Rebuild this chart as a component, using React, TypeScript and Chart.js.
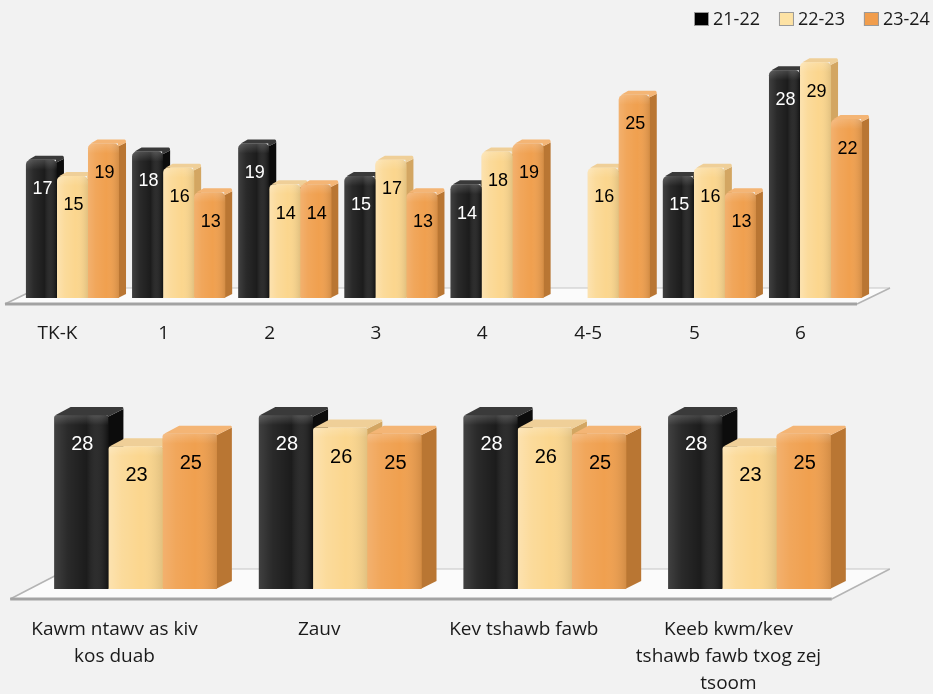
import React, { useEffect, useRef } from "react";
import { Chart, registerables } from "chart.js";

Chart.register(...registerables);

// ---------- data ----------
const seriesLabels = ["21-22", "22-23", "23-24"];

const gradeCategories = ["TK-K", "1", "2", "3", "4", "4-5", "5", "6"];
const grade2122 = [17, 18, 19, 15, 14, null, 15, 28];
const grade2223 = [15, 16, 14, 17, 18, 16, 16, 29];
const grade2324 = [19, 13, 14, 13, 19, 25, 13, 22];

const subjectCategories = [
  ["Kawm ntawv as kiv", "kos duab"],
  "Zauv",
  "Kev tshawb fawb",
  ["Keeb kwm/kev", "tshawb fawb txog zej", "tsoom"],
];
const subject2122 = [28, 28, 28, 28];
const subject2223 = [23, 26, 26, 23];
const subject2324 = [25, 25, 25, 25];

const yAxisMin = 0;
const yAxisMax = 30;

// ---------- styles ----------
const palette = [
  { front: "#1c1c1c", side: "#0c0c0c", top: "#3a3a3a", text: "#ffffff", legend: "#000000", shine: 0.16, shade: 0.35 },
  { front: "#fbd68e", side: "#d3a662", top: "#efcf98", text: "#000000", legend: "#fde2a4", shine: 0.3, shade: 0.1 },
  { front: "#f0a04f", side: "#b97633", top: "#f4b575", text: "#000000", legend: "#f19d4c", shine: 0.18, shade: 0.12 },
];

const LABEL_FONT_FAMILY = '"Open Sans", "Noto Sans", sans-serif';
const VALUE_FONT_FAMILY = '"Liberation Sans", Arial, sans-serif';

type FloorCfg = { fl: number[]; fr: number[]; br: number[]; bl: number[] };
type Cfg = {
  dx: number;
  dy: number;
  radius: number;
  valueFont: string;
  valueDy: number;
  floor: FloorCfg;
};

function make3DPlugin(cfg: Cfg) {
  return {
    id: "bar3d",
    beforeDatasetsDraw(chart: any) {
      const { ctx, chartArea: a } = chart;
      const f = cfg.floor;
      const P = {
        fl: [a.left + f.fl[0], a.bottom + f.fl[1]],
        fr: [a.right + f.fr[0], a.bottom + f.fr[1]],
        br: [a.right + f.br[0], a.bottom + f.br[1]],
        bl: [a.left + f.bl[0], a.bottom + f.bl[1]],
      };
      ctx.save();
      // floor plane
      ctx.beginPath();
      ctx.moveTo(P.fl[0], P.fl[1]);
      ctx.lineTo(P.fr[0], P.fr[1]);
      ctx.lineTo(P.br[0], P.br[1]);
      ctx.lineTo(P.bl[0], P.bl[1]);
      ctx.closePath();
      ctx.fillStyle = "#fbfbfb";
      ctx.fill();
      // back edge
      ctx.strokeStyle = "#c6c6c6";
      ctx.lineWidth = 1;
      ctx.beginPath();
      ctx.moveTo(P.bl[0], P.bl[1]);
      ctx.lineTo(P.br[0], P.br[1]);
      ctx.stroke();
      // side edges
      ctx.strokeStyle = "#b4b4b4";
      ctx.lineWidth = 1.5;
      ctx.beginPath();
      ctx.moveTo(P.fl[0], P.fl[1]);
      ctx.lineTo(P.bl[0], P.bl[1]);
      ctx.moveTo(P.fr[0], P.fr[1]);
      ctx.lineTo(P.br[0], P.br[1]);
      ctx.stroke();
      // front edge
      ctx.strokeStyle = "#a3a3a3";
      ctx.lineWidth = 3;
      ctx.beginPath();
      ctx.moveTo(P.fl[0], P.fl[1]);
      ctx.lineTo(P.fr[0], P.fr[1]);
      ctx.stroke();

      // sides and tops of bars
      chart.data.datasets.forEach((ds: any, di: number) => {
        const meta = chart.getDatasetMeta(di);
        const col = palette[di];
        meta.data.forEach((el: any, i: number) => {
          if (ds.data[i] == null) return;
          const { x, y, base, width } = el.getProps(["x", "y", "base", "width"], true);
          const l = x - width / 2;
          const r = x + width / 2;
          const { dx, dy } = cfg;
          // side
          ctx.fillStyle = col.side;
          ctx.beginPath();
          ctx.moveTo(r - 1, y + cfg.radius * 0.6);
          ctx.lineTo(r + dx, y - dy + cfg.radius * 0.6);
          ctx.lineTo(r + dx, base - dy);
          ctx.lineTo(r - 1, base);
          ctx.closePath();
          ctx.fill();
          // top
          ctx.fillStyle = col.top;
          ctx.beginPath();
          ctx.moveTo(l + cfg.radius * 0.5, y);
          ctx.lineTo(l + dx + cfg.radius * 0.5, y - dy);
          ctx.lineTo(r + dx - cfg.radius * 0.3, y - dy);
          ctx.quadraticCurveTo(r + dx, y - dy, r + dx, y - dy + cfg.radius * 0.6);
          ctx.lineTo(r - 1, y + cfg.radius * 0.6);
          ctx.lineTo(r - 1, y);
          ctx.closePath();
          ctx.fill();
        });
      });
      ctx.restore();
    },
    afterDatasetsDraw(chart: any) {
      const { ctx } = chart;
      ctx.save();
      chart.data.datasets.forEach((ds: any, di: number) => {
        const meta = chart.getDatasetMeta(di);
        const col = palette[di];
        meta.data.forEach((el: any, i: number) => {
          const v = ds.data[i];
          if (v == null) return;
          const { x, y, base, width } = el.getProps(["x", "y", "base", "width"], true);
          const l = x - width / 2;
          const r = x + width / 2;
          // shading overlay on front face
          ctx.save();
          ctx.beginPath();
          (ctx as any).roundRect(l, y, width, base - y, [cfg.radius, cfg.radius, 0, 0]);
          ctx.clip();
          const g = ctx.createLinearGradient(l, 0, r, 0);
          g.addColorStop(0, `rgba(255,255,255,${col.shine})`);
          g.addColorStop(0.25, `rgba(255,255,255,${col.shine * 0.4})`);
          g.addColorStop(0.6, "rgba(255,255,255,0)");
          g.addColorStop(1, `rgba(0,0,0,${col.shade})`);
          ctx.fillStyle = g;
          ctx.fillRect(l, y, width, base - y);
          const gv = ctx.createLinearGradient(0, y, 0, y + 10);
          gv.addColorStop(0, "rgba(255,255,255,0.18)");
          gv.addColorStop(1, "rgba(255,255,255,0)");
          ctx.fillStyle = gv;
          ctx.fillRect(l, y, width, 10);
          ctx.restore();
          // value label
          ctx.font = cfg.valueFont;
          ctx.fillStyle = col.text;
          ctx.textAlign = "center";
          ctx.textBaseline = "middle";
          ctx.fillText(String(v), x + 1, y + cfg.valueDy);
        });
      });
      ctx.restore();
    },
  };
}

const legendPlugin = {
  id: "customLegend",
  afterDraw(chart: any) {
    const { ctx } = chart;
    ctx.save();
    ctx.font = `18px ${LABEL_FONT_FAMILY}`;
    ctx.textBaseline = "middle";
    ctx.textAlign = "left";
    let x = 694;
    const boxTop = 12;
    const boxSize = 14;
    chart.data.datasets.forEach((ds: any, di: number) => {
      ctx.fillStyle = palette[di].legend;
      ctx.fillRect(x, boxTop, boxSize + 1, boxSize);
      ctx.strokeStyle = "#9a9a9a";
      ctx.lineWidth = 1;
      ctx.strokeRect(x + 0.5, boxTop + 0.5, boxSize, boxSize - 1);
      ctx.fillStyle = "#1a1a1a";
      const tx = x + 19;
      ctx.fillText(ds.label, tx, boxTop + boxSize / 2 + 1);
      x = tx + ctx.measureText(ds.label).width + 19;
    });
    ctx.restore();
  },
};

function buildDatasets(values: (number | null)[][], radius: number) {
  return values.map((data, di) => ({
    label: seriesLabels[di],
    data,
    backgroundColor: palette[di].front,
    borderWidth: 0,
    borderRadius: radius,
    borderSkipped: "start" as const,
  }));
}

function axisOptions(opts: {
  labelOffset: number;
  padding: number;
  height: number;
}) {
  return {
    x: {
      grid: { display: false, drawTicks: false },
      border: { display: false },
      ticks: {
        font: { family: LABEL_FONT_FAMILY, size: 19, lineHeight: 1.42 },
        color: "#1a1a1a",
        padding: opts.padding,
        labelOffset: opts.labelOffset,
        maxRotation: 0,
        minRotation: 0,
        autoSkip: false,
      },
      afterFit: (scale: any) => {
        scale.height = opts.height;
      },
    },
    y: { display: false, min: yAxisMin, max: yAxisMax },
  };
}

export default function App() {
  const topRef = useRef<HTMLCanvasElement | null>(null);
  const botRef = useRef<HTMLCanvasElement | null>(null);

  useEffect(() => {
    const prevMargin = document.body.style.margin;
    document.body.style.margin = "0";

    const topChart = new Chart(topRef.current as HTMLCanvasElement, {
      type: "bar",
      data: {
        labels: gradeCategories,
        datasets: buildDatasets([grade2122, grade2223, grade2324], 5) as any,
      },
      options: {
        responsive: false,
        animation: false,
        layout: { padding: { left: 19.4, right: 64.4, top: 54, bottom: 0 } },
        plugins: { legend: { display: false }, tooltip: { enabled: false } },
        datasets: { bar: { categoryPercentage: 0.877, barPercentage: 1 } },
        scales: axisOptions({ labelOffset: -15, padding: 22.5, height: 62 }) as any,
      },
      plugins: [
        make3DPlugin({
          dx: 7,
          dy: 4,
          radius: 5,
          valueFont: `18px ${VALUE_FONT_FAMILY}`,
          valueDy: 29.5,
          floor: { fl: [-14.4, 6], fr: [-11.6, 6], br: [21.4, -10], bl: [18.6, -10] },
        }),
        legendPlugin,
      ],
    });

    const botChart = new Chart(botRef.current as HTMLCanvasElement, {
      type: "bar",
      data: {
        labels: subjectCategories as any,
        datasets: buildDatasets([subject2122, subject2223, subject2324], 3) as any,
      },
      options: {
        responsive: false,
        animation: false,
        layout: { padding: { left: 33.2, right: 81.2, top: 42.7, bottom: 0 } },
        plugins: { legend: { display: false }, tooltip: { enabled: false } },
        datasets: { bar: { categoryPercentage: 0.795, barPercentage: 1 } },
        scales: axisOptions({ labelOffset: -21, padding: 27.5, height: 105 }) as any,
      },
      plugins: [
        make3DPlugin({
          dx: 15,
          dy: 8,
          radius: 3,
          valueFont: `20px ${VALUE_FONT_FAMILY}`,
          valueDy: 29.5,
          floor: { fl: [-23, 10], fr: [-20, 10], br: [38, -20], bl: [35, -20] },
        }),
      ],
    });

    return () => {
      topChart.destroy();
      botChart.destroy();
      document.body.style.margin = prevMargin;
    };
  }, []);

  return (
    <div
      style={{
        position: "relative",
        width: 933,
        height: 694,
        background: "#f2f2f2",
        overflow: "hidden",
      }}
    >
      <canvas
        ref={topRef}
        width={933}
        height={360}
        style={{ position: "absolute", left: 0, top: 0 }}
      />
      <canvas
        ref={botRef}
        width={933}
        height={334}
        style={{ position: "absolute", left: 0, top: 360 }}
      />
    </div>
  );
}
